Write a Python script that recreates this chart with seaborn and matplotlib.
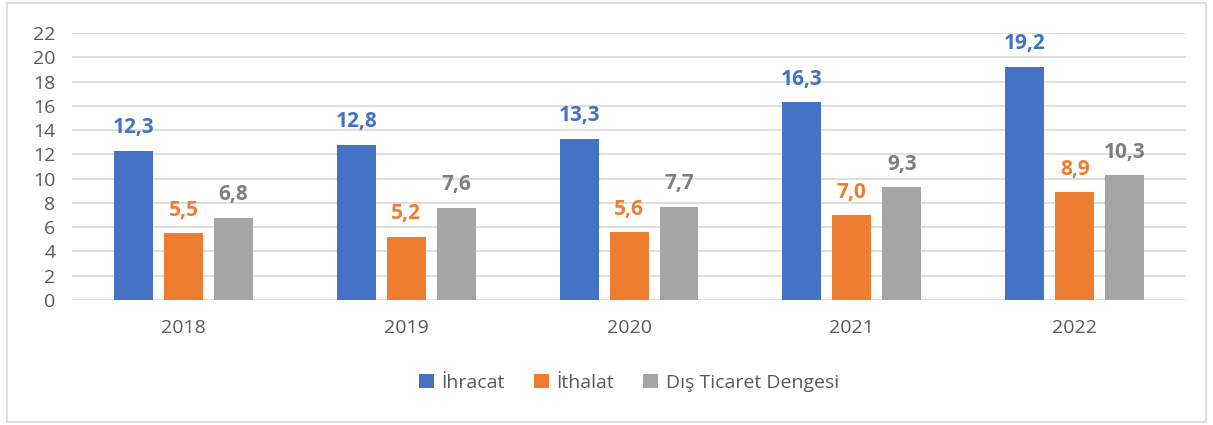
import pandas as pd
import numpy as np
import matplotlib
matplotlib.use("Agg")
import matplotlib.pyplot as plt
import seaborn as sns
from matplotlib.patches import Rectangle

years = ["2018", "2019", "2020", "2021", "2022"]
series = ["İhracat", "İthalat", "Dış Ticaret Dengesi"]
ihracat = [12.3, 12.8, 13.3, 16.3, 19.2]
ithalat = [5.5, 5.2, 5.6, 7.0, 8.9]
denge = [6.8, 7.6, 7.7, 9.3, 10.3]

colors = ["#4472C4", "#ED7D31", "#A5A5A5"]
label_colors = ["#4472C4", "#ED7D31", "#7F7F7F"]

df = pd.DataFrame({
    "year": years * 3,
    "series": [series[0]] * 5 + [series[1]] * 5 + [series[2]] * 5,
    "value": ihracat + ithalat + denge,
})

sns.set_style("white")
plt.rcParams["font.family"] = ["Open Sans", "DejaVu Sans"]

fig = plt.figure(figsize=(12.13, 4.25), dpi=100)
ax = fig.add_axes([0.0594, 0.294, 0.9184, 0.6284])

sns.barplot(data=df, x="year", y="value", hue="series", palette=colors,
            saturation=1, linewidth=0, width=0.672, gap=0.22, ax=ax, legend=True)

for cont, lc in zip(ax.containers, label_colors):
    labels = [f"{b.get_height():.1f}".replace(".", ",") for b in cont]
    ax.bar_label(cont, labels=labels, padding=9, color=lc,
                 fontsize=15, fontweight="bold")

ax.set_ylim(0, 22)
ax.set_xlim(-0.5, 4.5)
ax.set_yticks(range(0, 23, 2))
ax.yaxis.grid(True, color="#D9D9D9", linewidth=1.2)
ax.set_axisbelow(True)
for s in ax.spines.values():
    s.set_visible(False)
ax.tick_params(axis="both", length=0, labelsize=14, colors="#595959")
ax.tick_params(axis="x", pad=14)
ax.tick_params(axis="y", pad=12)
ax.set_xlabel("")
ax.set_ylabel("")

leg = ax.legend(loc="center", bbox_to_anchor=(0.5, -0.31), ncol=3,
                frameon=False, fontsize=14, handlelength=0.75, handleheight=0.75,
                handletextpad=0.4, columnspacing=1.5)
for t in leg.get_texts():
    t.set_color("#595959")

fig.patches.append(Rectangle((0.006, 0.006), 0.988, 0.986, transform=fig.transFigure,
                             fill=False, edgecolor="#D9D9D9", linewidth=1.2))

fig.savefig("out.png", dpi=100)
